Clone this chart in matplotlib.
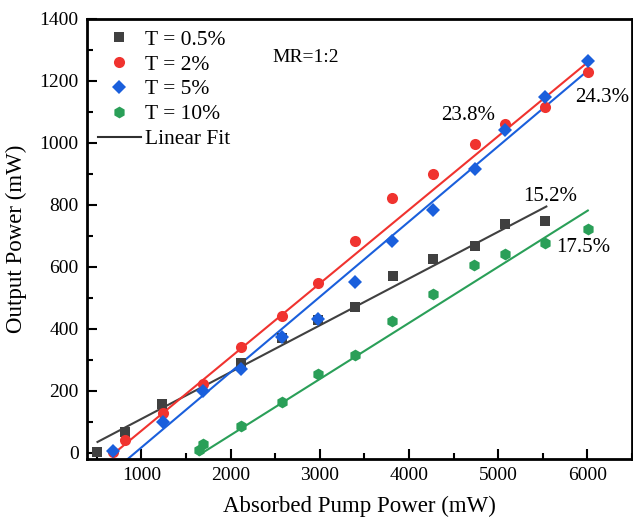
import numpy as np
import matplotlib.pyplot as plt
from matplotlib.ticker import MultipleLocator

plt.rcParams['font.family'] = ['Liberation Serif', 'DejaVu Serif']
plt.rcParams['mathtext.fontset'] = 'stix'

# absorbed pump power (mW) for each transmission
x_t05 = [508, 821, 1235, 2117, 2575, 2978, 3399, 3816, 4274, 4740, 5081, 5528]
y_t05 = [3, 68, 157, 289, 371, 427, 471, 571, 627, 667, 738, 748]

x_t2 = [680, 821, 1238, 1693, 2121, 2579, 2978, 3399, 3809, 4274, 4740, 5081, 5528, 6005]
y_t2 = [3, 41, 129, 222, 340, 441, 548, 683, 822, 901, 996, 1062, 1116, 1229]

x_t5 = [680, 1238, 1693, 2121, 2579, 2978, 3399, 3809, 4274, 4740, 5081, 5528, 6005]
y_t5 = [6, 100, 200, 272, 374, 433, 550, 684, 785, 917, 1043, 1148, 1265]

x_t10 = [1648, 1693, 2121, 2579, 2978, 3399, 3809, 4274, 4732, 5081, 5528, 6005]
y_t10 = [9, 30, 86, 165, 254, 317, 425, 511, 605, 640, 677, 721]

# linear fits (slope, intercept, x range)
fit_t05 = (0.151, -41.7, 508, 5540)
fit_t2 = (0.2377, -166.6, 680, 6005)
fit_t5 = (0.243, -225.8, 680, 6005)
fit_t10 = (0.181, -305.0, 1648, 6005)

labels = ['T = 0.5%', 'T = 2%', 'T = 5%', 'T = 10%']
slope_texts = ['15.2%', '23.8%', '24.3%', '17.5%']

c_gray = '#404040'
c_red = '#f0332f'
c_blue = '#1a5fdc'
c_green = '#2a9f58'

fig = plt.figure(figsize=(6.33, 5.19), dpi=100)
ax = fig.add_axes([0.1374, 0.1156, 0.861, 0.8478])

series = [
    (x_t05, y_t05, fit_t05, c_gray, 's', 7),
    (x_t2, y_t2, fit_t2, c_red, 'o', 8),
    (x_t5, y_t5, fit_t5, c_blue, 'D', 7),
    (x_t10, y_t10, fit_t10, c_green, 'h', 8.5),
]

for (xs, ys, fit, col, mk, ms), lab in zip(series, labels):
    ax.plot(xs, ys, linestyle='none', marker=mk, color=col, markersize=ms,
            markeredgewidth=0, label=lab, zorder=3)
for (xs, ys, fit, col, mk, ms) in series:
    k, b, x0, x1 = fit
    xx = np.array([x0, x1])
    ax.plot(xx, k * xx + b, color=col, linewidth=1.5, zorder=2)
ax.plot([], [], color='#303030', linewidth=1.5, label='Linear Fit')

ax.text(4665, 1089, slope_texts[1], fontsize=15, ha='center', va='center')
ax.text(6162, 1148, slope_texts[2], fontsize=15, ha='center', va='center')
ax.text(5581, 826, slope_texts[0], fontsize=15, ha='center', va='center')
ax.text(5950, 663, slope_texts[3], fontsize=15, ha='center', va='center')
ax.text(2843, 1276, 'MR=1:2', fontsize=14, ha='center', va='center')

ax.set_xlim(390, 6500)
ax.set_ylim(-20, 1400)
ax.xaxis.set_major_locator(MultipleLocator(1000))
ax.xaxis.set_minor_locator(MultipleLocator(500))
ax.yaxis.set_major_locator(MultipleLocator(200))
ax.yaxis.set_minor_locator(MultipleLocator(100))
ax.tick_params(which='both', direction='in', labelsize=14, width=1.5)
ax.tick_params(which='major', length=7, pad=6)
ax.tick_params(which='minor', length=4)
for s in ax.spines.values():
    s.set_linewidth(2)

ax.set_xlabel('Absorbed Pump Power (mW)', fontsize=16.5, labelpad=8)
ax.set_ylabel('Output Power (mW)', fontsize=16.5, labelpad=9)

ax.legend(loc='upper left', frameon=False, fontsize=15.5, handlelength=2.0,
          borderaxespad=0.2, borderpad=0.3, labelspacing=0.22,
          handletextpad=0.2)

fig.savefig('out.png', dpi=100)
